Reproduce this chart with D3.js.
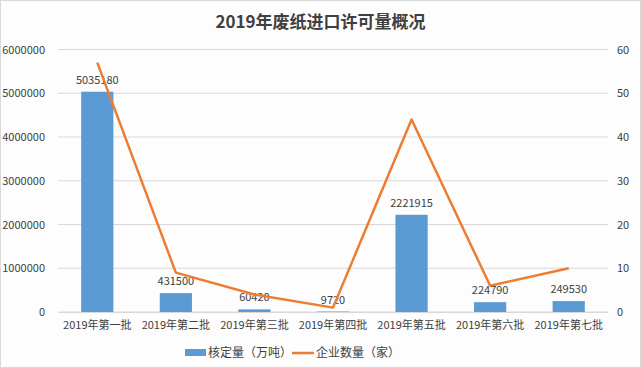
<!DOCTYPE html>
<html><head><meta charset="utf-8">
<script src="https://cdn.jsdelivr.net/npm/d3@7"></script>
<style>body{margin:0;background:#fff}svg{display:block}</style>
</head><body>
<script>
const categories = ["2019年第一批","2019年第二批","2019年第三批","2019年第四批","2019年第五批","2019年第六批","2019年第七批"];
const quota = [5035180, 431500, 60420, 9720, 2221915, 224790, 249530];
const companies = [57, 9, 4, 1, 44, 6, 10];
const leftTicks = [0,1000000,2000000,3000000,4000000,5000000,6000000];
const rightTicks = [0,10,20,30,40,50,60];
const title = "2019年废纸进口许可量概况";
const seriesNames = ["核定量（万吨）","企业数量（家）"];

const W=641,H=368;
const font = "'Noto Sans CJK SC', 'Noto Sans', sans-serif";
const svg = d3.select("body").append("svg").attr("width",W).attr("height",H).style("font-family",font);
svg.append("rect").attr("x",0.5).attr("y",0.5).attr("width",W-1).attr("height",H-1).attr("fill","#fdfdfd").attr("stroke","#d9d9d9");

const L=58,R=608,T=49.5,B=312;
const x = d3.scaleBand().domain(categories).range([L,R]).padding(0);
const yL = d3.scaleLinear().domain([0,6000000]).range([B,T]);
const yR = d3.scaleLinear().domain([0,60]).range([B,T]);

svg.append("text").attr("x",W/2).attr("y",28).attr("text-anchor","middle")
  .attr("font-size",17).attr("font-weight","bold").attr("fill","#404040").text(title);

// grid
svg.append("g").selectAll("line").data(leftTicks).join("line")
  .attr("x1",L).attr("x2",R).attr("y1",d=>yL(d)).attr("y2",d=>yL(d))
  .attr("stroke","#d9d9d9").attr("stroke-width",1);

// left axis
const gl = svg.append("g").attr("transform",`translate(${L-10},0)`)
  .call(d3.axisLeft(yL).tickValues(leftTicks).tickSize(0).tickFormat(d3.format("d")));
gl.select(".domain").remove();
gl.selectAll("text").attr("font-size",11).attr("fill","#404040").attr("font-family",font);

// right axis
const gr = svg.append("g").attr("transform",`translate(${R+6},0)`)
  .call(d3.axisRight(yR).tickValues(rightTicks).tickSize(0));
gr.select(".domain").remove();
gr.selectAll("text").attr("font-size",11).attr("fill","#404040").attr("font-family",font);

// x axis labels
const gx = svg.append("g").attr("transform",`translate(0,${B})`)
  .call(d3.axisBottom(x).tickSize(0).tickPadding(9));
gx.select(".domain").attr("stroke","#d9d9d9");
gx.selectAll("text").attr("font-size",11).attr("fill","#404040").attr("font-family",font);

// bars
const bw = x.bandwidth()*0.41;
svg.append("g").selectAll("rect").data(quota).join("rect")
  .attr("x",(d,i)=>x(categories[i])+x.bandwidth()/2-bw/2)
  .attr("y",d=>yL(d)).attr("width",bw).attr("height",d=>B-yL(d))
  .attr("fill","#5b9bd5");

// bar labels
svg.append("g").selectAll("text").data(quota).join("text")
  .attr("x",(d,i)=>x(categories[i])+x.bandwidth()/2)
  .attr("y",d=>yL(d)-8).attr("text-anchor","middle")
  .attr("font-size",11).attr("fill","#404040").text(d=>d);

// line
const line = d3.line().x((d,i)=>x(categories[i])+x.bandwidth()/2).y(d=>yR(d));
svg.append("path").datum(companies).attr("d",line).attr("fill","none")
  .attr("stroke","#ed7d31").attr("stroke-width",2.5).attr("stroke-linejoin","round");

// legend
const lg = svg.append("g");
lg.append("rect").attr("x",185).attr("y",349).attr("width",21).attr("height",7).attr("fill","#5b9bd5");
lg.append("text").attr("x",208).attr("y",357).attr("fill","#404040").attr("font-size",12).text(seriesNames[0]);
lg.append("line").attr("x1",292).attr("x2",314).attr("y1",353).attr("y2",353).attr("stroke","#ed7d31").attr("stroke-width",2.5);
lg.append("text").attr("x",316).attr("y",357).attr("fill","#404040").attr("font-size",12).text(seriesNames[1]);
</script>
</body></html>
